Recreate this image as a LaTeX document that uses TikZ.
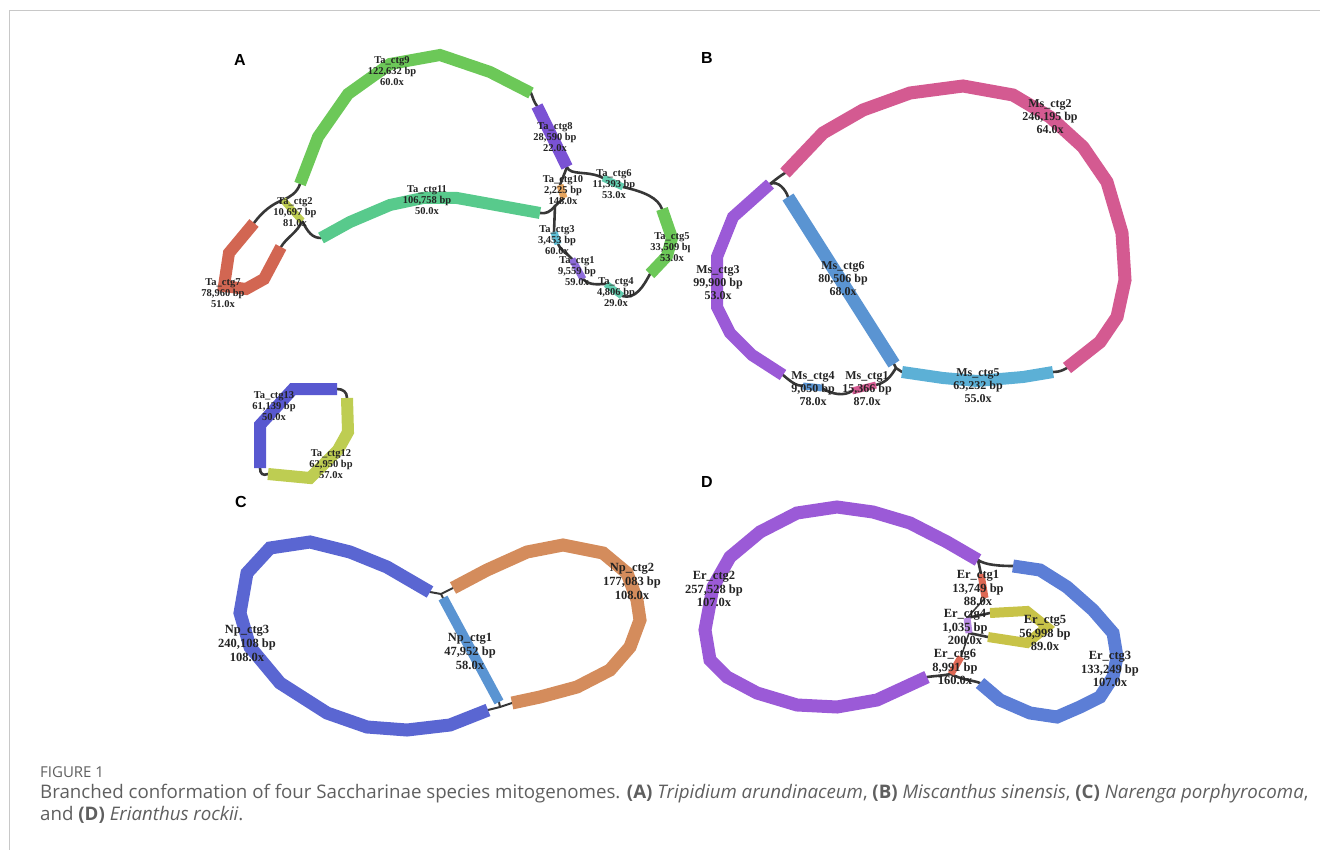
\documentclass[tikz,border=0pt]{standalone}
\usepackage{fontspec}
\setmainfont{Liberation Serif}
\setsansfont{Liberation Sans}
\newfontfamily\capfont{Open Sans}
\usetikzlibrary{positioning}

\definecolor{linkgray}{RGB}{55,55,55}
\definecolor{labgray}{RGB}{35,35,35}
\definecolor{capgray}{RGB}{95,95,95}
\definecolor{framegray}{RGB}{200,200,200}
\definecolor{taGreen}{RGB}{108,200,88}
\definecolor{taTeal}{RGB}{88,202,140}
\definecolor{taViolet}{RGB}{122,82,212}
\definecolor{taRed}{RGB}{210,102,82}
\definecolor{taOrange}{RGB}{230,165,95}
\definecolor{taCyan}{RGB}{95,190,212}
\definecolor{taMint}{RGB}{98,205,175}
\definecolor{taLime}{RGB}{190,205,82}
\definecolor{taBlue}{RGB}{88,88,208}
\definecolor{msPink}{RGB}{212,90,145}
\definecolor{msPurple}{RGB}{155,90,215}
\definecolor{msBlue}{RGB}{90,148,210}
\definecolor{msSky}{RGB}{92,176,214}
\definecolor{npBlue}{RGB}{90,102,210}
\definecolor{npOrange}{RGB}{212,140,92}
\definecolor{erBlue}{RGB}{92,126,214}
\definecolor{erYellow}{RGB}{200,195,72}
\definecolor{erRed}{RGB}{222,104,84}

\begin{document}
\begin{tikzpicture}[
  x=1pt, y=-1pt,
  ctg/.style={line width=12pt},
  ctgB/.style={line width=13pt},
  blob/.style={line width=7pt},
  link/.style={draw=linkgray, line width=2.6pt, line cap=round},
  lab/.style={align=center, inner sep=0pt, text=labgray},
  labA/.style={lab, font=\bfseries\fontsize{10.5}{11}\selectfont},
  labB/.style={lab, font=\bfseries\fontsize{12}{13}\selectfont},
  labC/.style={lab, font=\bfseries\fontsize{12.5}{14}\selectfont},
  labD/.style={lab, font=\bfseries\fontsize{12.5}{13.5}\selectfont},
  panel/.style={font=\sffamily\bfseries\fontsize{16}{16}\selectfont, inner sep=0pt},
  captitle/.style={anchor=base west, inner sep=0pt, text=capgray, font=\capfont\fontsize{15}{16}\selectfont},
  caption/.style={anchor=base west, inner sep=0pt, text=capgray, font=\capfont\fontsize{18.7}{22}\selectfont}
]
\useasboundingbox (0,0) rectangle (1320,850);
\draw[framegray, line width=1pt] (9,850) -- (9,11) -- (1320,11);

\node[panel] (pA) at (240,60) {A};
\node[panel] (pB) at (707,58) {B};
\node[panel] (pC) at (241,502) {C};
\node[panel] (pD) at (707,482) {D};

% panel A
\coordinate (a9s) at (300,184);  \coordinate (a9e) at (531,93);
\coordinate (a8s) at (537,106);  \coordinate (a8e) at (567,167);
\coordinate (a10s) at (560,185); \coordinate (a10e) at (564,198);
\coordinate (ajn) at (555,206);
\coordinate (a11s) at (321,238); \coordinate (a11e) at (540,213);
\coordinate (a2s) at (283,200);  \coordinate (a2e) at (302,221);
\coordinate (a7s) at (254,223);  \coordinate (a7e) at (281,247);
\coordinate (a6s) at (603,178);  \coordinate (a6e) at (623,187);
\coordinate (a5s) at (662,209);  \coordinate (a5e) at (650,274);
\coordinate (a3s) at (554,232);  \coordinate (a3e) at (558,244);
\coordinate (a1s) at (572,259);  \coordinate (a1e) at (583,279);
\coordinate (a4s) at (606,284);  \coordinate (a4e) at (622,296);

\draw[link] (a9s) .. controls (297,193) and (290,197) .. (a2s);
\draw[link] (a2s) .. controls (272,204) and (262,212) .. (a7s);
\draw[link] (a2e) .. controls (308,232) and (312,238) .. (a11s);
\draw[link] (a2e) .. controls (298,232) and (286,238) .. (a7e);
\draw[link] (a9e) .. controls (533,98) and (534,102) .. (a8s);
\draw[link] (a8e) .. controls (570,176) and (588,170) .. (a6s);
\draw[link] (a8e) -- (a10s);
\draw[link] (a10e) -- (ajn);
\draw[link] (ajn) .. controls (550,212) and (546,214) .. (a11e);
\draw[link] (ajn) -- (a3s);
\draw[link] (a3e) .. controls (562,252) and (568,254) .. (a1s);
\draw[link] (a1e) .. controls (590,286) and (598,284) .. (a4s);
\draw[link] (a4e) .. controls (636,300) and (644,285) .. (a5e);
\draw[link] (a6e) .. controls (645,192) and (658,198) .. (a5s);

\draw[ctg, taGreen] (a9s) -- (318,137) -- (348,94) -- (390,64) -- (440,55) -- (490,72) -- (a9e);
\draw[ctg, taViolet] (a8s) -- (a8e);
\draw[ctg, taTeal] (a11s) -- (350,222) -- (390,205) -- (423,198) -- (457,198) -- (a11e);
\draw[ctg, taRed] (a7s) -- (229,253) -- (224,286) -- (246,289) -- (264,279) -- (a7e);
\draw[ctg, taGreen] (a5s) -- (672,238) -- (667,256) -- (a5e);
\draw[blob, taLime] (a2s) -- (a2e);
\draw[blob, taOrange] (a10s) -- (a10e);
\draw[blob, taMint] (a6s) -- (a6e);
\draw[blob, taCyan] (a3s) -- (a3e);
\draw[blob, taViolet!85] (a1s) -- (a1e);
\draw[blob, taMint] (a4s) -- (a4e);

\node[labA] (l9) at (392,71) {Ta\_ctg9\\122,632 bp\\60.0x};
\node[labA] (l8) at (555,137) {Ta\_ctg8\\28,590 bp\\22.0x};
\node[labA] (l10) at (563,190) {Ta\_ctg10\\2,225 bp\\148.0x};
\node[labA] (l6) at (614,184) {Ta\_ctg6\\11,393 bp\\53.0x};
\node[labA] (l11) at (427,200) {Ta\_ctg11\\106,758 bp\\50.0x};
\node[labA] (l2) at (295,212) {Ta\_ctg2\\10,697 bp\\81.0x};
\node[labA] (l7) at (223,293) {Ta\_ctg7\\78,960 bp\\51.0x};
\node[labA] (l3) at (557,240) {Ta\_ctg3\\3,453 bp\\60.0x};
\node[labA] (l1) at (577,271) {Ta\_ctg1\\9,559 bp\\59.0x};
\node[labA] (l4) at (616,292) {Ta\_ctg4\\4,806 bp\\29.0x};
\begin{scope}
  \clip (640,225) rectangle (689,270);
  \node[labA] (l5) at (672,247) {Ta\_ctg5\\33,509 bp\\53.0x};
\end{scope}

\coordinate (t13s) at (260,468); \coordinate (t13e) at (337,389);
\coordinate (t12s) at (347,398); \coordinate (t12e) at (268,474);
\draw[link] (t13e) .. controls (343,389) and (347,392) .. (t12s);
\draw[link] (t13s) .. controls (260,474) and (263,476) .. (t12e);
\draw[ctg, taBlue] (t13s) -- (260,425) -- (293,389) -- (t13e);
\draw[ctg, taLime] (t12s) -- (348,432) -- (338,450) -- (310,478) -- (t12e);
\node[labA] (l13) at (274,406) {Ta\_ctg13\\61,139 bp\\50.0x};
\node[labA] (l12) at (331,464) {Ta\_ctg12\\62,950 bp\\57.0x};

% panel B
\coordinate (b2s) at (785,173);  \coordinate (b2e) at (1067,368);
\coordinate (b3s) at (770,184);  \coordinate (b3e) at (783,375);
\coordinate (b6s) at (788,197);  \coordinate (b6e) at (894,364);
\coordinate (b5s) at (902,372);  \coordinate (b5e) at (1053,372);
\coordinate (b4s) at (803,386);  \coordinate (b4e) at (822,388);
\coordinate (b1s) at (852,391);  \coordinate (b1e) at (876,385);
\coordinate (bjb) at (896,368);

\draw[link] (b3s) .. controls (775,180) and (780,176) .. (b2s);
\draw[link] (b3s) .. controls (778,180) and (786,190) .. (b6s);
\draw[link] (b3e) .. controls (790,381) and (796,386) .. (b4s);
\draw[link] (b4e) .. controls (832,395) and (845,396) .. (b1s);
\draw[link] (b1e) .. controls (888,382) and (892,374) .. (bjb);
\draw[link] (b6e) -- (bjb) -- (b5s);
\draw[link] (b5e) .. controls (1060,372) and (1063,370) .. (b2e);

\draw[ctgB, msPink] (b2s) -- (823,133) -- (863,110) -- (910,93) -- (963,86) -- (1013,95) -- (1050,117)
  -- (1083,147) -- (1107,182) -- (1122,233) -- (1125,280) -- (1117,317) -- (1100,342) -- (b2e);
\draw[ctg, msPurple] (b3s) -- (733,217) -- (717,257) -- (717,307) -- (730,333) -- (752,355) -- (b3e);
\draw[ctgB, msBlue] (b6s) -- (b6e);
\draw[ctg, msSky] (b5s) -- (943,378) -- (977,381) -- (1023,377) -- (b5e);
\draw[blob, msBlue] (b4s) -- (b4e);
\draw[blob, msPink] (b1s) -- (b1e);

\node[labB] (m2) at (1050,117) {Ms\_ctg2\\246,195 bp\\64.0x};
\node[labB] (m3) at (718,283) {Ms\_ctg3\\99,900 bp\\53.0x};
\node[labB] (m6) at (843,279) {Ms\_ctg6\\80,506 bp\\68.0x};
\node[labB] (m5) at (978,386) {Ms\_ctg5\\63,232 bp\\55.0x};
\node[labB] (m4) at (813,389) {Ms\_ctg4\\9,050 bp\\78.0x};
\node[labB] (m1) at (867,389) {Ms\_ctg1\\15,366 bp\\87.0x};

% panel C
\coordinate (c3s) at (430,592);  \coordinate (c3e) at (488,710);
\coordinate (c2s) at (453,588);  \coordinate (c2e) at (512,703);
\coordinate (c1s) at (443,598);  \coordinate (c1e) at (499,702);
\coordinate (cjt) at (441,594);  \coordinate (cjb) at (500,707);

\draw[link, line width=2pt] (c3s) -- (cjt) -- (c2s);
\draw[link, line width=2pt] (cjt) -- (c1s);
\draw[link, line width=2pt] (c3e) -- (cjb) -- (c2e);
\draw[link, line width=2pt] (cjb) -- (c1e);

\draw[ctgB, npBlue] (c3s) -- (387,567) -- (350,552) -- (310,542) -- (270,548) -- (247,573) -- (240,613)
  -- (250,647) -- (280,683) -- (327,713) -- (367,727) -- (407,730) -- (450,725) -- (c3e);
\draw[ctgB, npOrange] (c2s) -- (487,570) -- (527,552) -- (563,545) -- (603,553) -- (627,573) -- (637,600)
  -- (640,620) -- (630,647) -- (610,670) -- (577,687) -- (540,697) -- (c2e);
\draw[line width=10pt, msBlue] (c1s) -- (c1e);

\node[labC] (n3) at (247,643) {Np\_ctg3\\240,108 bp\\108.0x};
\node[labC] (n2) at (632,581) {Np\_ctg2\\177,083 bp\\108.0x};
\node[labC] (n1) at (470,651) {Np\_ctg1\\47,952 bp\\58.0x};

% panel D
\coordinate (d2s) at (978,560);  \coordinate (d2e) at (927,677);
\coordinate (d3s) at (1013,566); \coordinate (d3e) at (980,683);
\coordinate (d5s) at (990,613);  \coordinate (d5e) at (988,637);
\coordinate (d1s) at (981,574);  \coordinate (d1e) at (985,598);
\coordinate (d4s) at (967,618);  \coordinate (d4e) at (969,633);
\coordinate (d6s) at (961,657);  \coordinate (d6e) at (951,674);

\draw[link] (d2s) .. controls (985,565) and (1000,566) .. (d3s);
\draw[link] (d2s) -- (d1s);
\draw[link, line width=1.5pt] (d1e) -- (d4s);
\draw[link] (d4s) -- (d5s);
\draw[link] (d4e) -- (d5e);
\draw[link, line width=1.5pt] (d4e) -- (d6s);
\draw[link] (d6e) .. controls (940,676) and (934,676) .. (d2e);
\draw[link] (d6e) .. controls (962,680) and (972,680) .. (d3e);

\draw[ctgB, msPurple] (d2s) -- (947,542) -- (910,523) -- (873,512) -- (837,507) -- (797,513) -- (760,532)
  -- (730,557) -- (713,587) -- (705,630) -- (710,660) -- (727,677) -- (757,693) -- (797,705)
  -- (837,707) -- (877,700) -- (d2e);
\draw[ctgB, erBlue] (d3s) -- (1040,570) -- (1067,587) -- (1093,610) -- (1113,633) -- (1117,657)
  -- (1113,677) -- (1100,697) -- (1080,707) -- (1057,717) -- (1030,713) -- (1000,700) -- (d3e);
\draw[line width=10pt, erYellow] (d5s) -- (1027,611) -- (1047,627) -- (1027,643) -- (d5e);
\draw[blob, erRed] (d1s) -- (d1e);
\draw[blob, msPurple!70] (d4s) -- (d4e);
\draw[blob, erRed] (d6s) -- (d6e);

\node[labD] (r2) at (714,589) {Er\_ctg2\\257,528 bp\\107.0x};
\node[labD] (r1) at (978,588) {Er\_ctg1\\13,749 bp\\88.0x};
\node[labD] (r4) at (965,627) {Er\_ctg4\\1,035 bp\\200.0x};
\node[labD] (r5) at (1045,633) {Er\_ctg5\\56,998 bp\\89.0x};
\node[labD] (r6) at (955,667) {Er\_ctg6\\8,991 bp\\160.0x};
\begin{scope}
  \clip (1070,640) rectangle (1142,700);
  \node[labD] (r3) at (1110,669) {Er\_ctg3\\133,249 bp\\107.0x};
\end{scope}

% caption
\node[captitle] (fig) at (40,777) {FIGURE 1};
\node[caption] (cap1) at (40,798) {Branched conformation of four Saccharinae species mitogenomes. \textbf{(A)} \textit{Tripidium arundinaceum}, \textbf{(B)} \textit{Miscanthus sinensis}, \textbf{(C)} \textit{Narenga porphyrocoma},};
\node[caption] (cap2) at (40,820) {and \textbf{(D)} \textit{Erianthus rockii}.};
\end{tikzpicture}
\end{document}
